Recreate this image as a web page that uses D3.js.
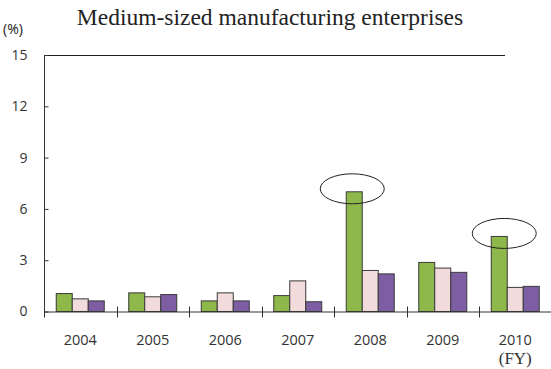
<!DOCTYPE html>
<html><head><meta charset="utf-8">
<script src="https://cdn.jsdelivr.net/npm/d3@7"></script>
<style>body{margin:0;background:#fff}svg{display:block}</style>
</head><body>
<svg id="c" width="551" height="369"></svg>
<script>
const years = ["2004","2005","2006","2007","2008","2009","2010"];
const seriesA = [1.05, 1.09, 0.62, 0.93, 7.0, 2.87, 4.39];
const seriesB = [0.74, 0.86, 1.09, 1.79, 2.4, 2.54, 1.41];
const seriesC = [0.62, 0.99, 0.62, 0.57, 2.2, 2.29, 1.47];
const yTicks = [0, 3, 6, 9, 12, 15];
const highlighted = ["2008", "2010"];
const colors = ["#8fb84a", "#f2dcdb", "#7e5ea3"];

const svg = d3.select("#c");
const x0 = 44, x1 = 551.5, yBase = 311.5, yTop = 55;
const x = d3.scaleBand().domain(years).range([x0, x1]).padding(0);
const y = d3.scaleLinear().domain([0, 15]).range([yBase, yTop]);
const sub = d3.scaleBand().domain([0,1,2]).range([0, 48]);
const groupOffset = (x.bandwidth() - 48) / 2;

// title
svg.append("text").attr("x", 270).attr("y", 25).attr("text-anchor", "middle")
  .attr("font-family", "Liberation Serif, serif").attr("font-size", 23.5).attr("fill", "#222")
  .text("Medium-sized manufacturing enterprises");
svg.append("text").attr("x", 3).attr("y", 34)
  .attr("font-family", "Open Sans, sans-serif").attr("font-size", 14).attr("fill", "#222")
  .text("(%)");

// top border line
svg.append("line").attr("x1", x0).attr("x2", 505).attr("y1", yTop + 0.5).attr("y2", yTop + 0.5)
  .attr("stroke", "#222").attr("stroke-width", 1);

// y axis
const yAxis = d3.axisLeft(y).tickValues(yTicks).tickSize(-4).tickPadding(17);
const gy = svg.append("g").attr("transform", `translate(${x0 + 0.5},0)`).call(yAxis);
gy.select(".domain").remove();
gy.selectAll(".tick line").attr("stroke", "#333");
gy.selectAll("text").attr("font-family", "Open Sans, sans-serif").attr("font-size", 14).attr("fill", "#333");
svg.append("line").attr("x1", x0 + 0.5).attr("x2", x0 + 0.5).attr("y1", yTop).attr("y2", yBase + 6)
  .attr("stroke", "#333");

// bars
const data = years.map((yr, i) => ({yr, vals: [seriesA[i], seriesB[i], seriesC[i]]}));
const g = svg.append("g");
data.forEach(d => {
  d.vals.forEach((v, k) => {
    g.append("rect")
      .attr("x", x(d.yr) + groupOffset + sub(k))
      .attr("y", y(v))
      .attr("width", sub.bandwidth())
      .attr("height", yBase - y(v))
      .attr("fill", colors[k])
      .attr("stroke", "#3a3a3a").attr("stroke-width", 1);
  });
});

// x axis
svg.append("line").attr("x1", x0).attr("x2", 551).attr("y1", yBase + 0.5).attr("y2", yBase + 0.5)
  .attr("stroke", "#333");
years.slice(1).forEach(yr => {
  svg.append("line").attr("x1", Math.round(x(yr)) + 0.5).attr("x2", Math.round(x(yr)) + 0.5)
    .attr("y1", yBase - 5).attr("y2", yBase + 6).attr("stroke", "#333");
});
years.forEach(yr => {
  svg.append("text").attr("x", x(yr) + x.bandwidth() / 2).attr("y", 345)
    .attr("text-anchor", "middle").attr("font-family", "Open Sans, sans-serif")
    .attr("font-size", 14.5).attr("fill", "#333").text(yr);
});
svg.append("text").attr("x", x("2010") + x.bandwidth() / 2).attr("y", 364)
  .attr("text-anchor", "middle").attr("font-family", "Liberation Serif, serif")
  .attr("font-size", 17).attr("fill", "#333").text("(FY)");

// highlight ellipses around the green bars
highlighted.forEach(yr => {
  const i = years.indexOf(yr);
  const cx = x(yr) + groupOffset + sub(0) + sub.bandwidth() / 2 + (yr === "2010" ? 5 : -2);
  svg.append("ellipse").attr("cx", cx).attr("cy", y(seriesA[i]) - 3)
    .attr("rx", 32).attr("ry", 15).attr("fill", "none").attr("stroke", "#222").attr("stroke-width", 1);
});
</script>
</body></html>
